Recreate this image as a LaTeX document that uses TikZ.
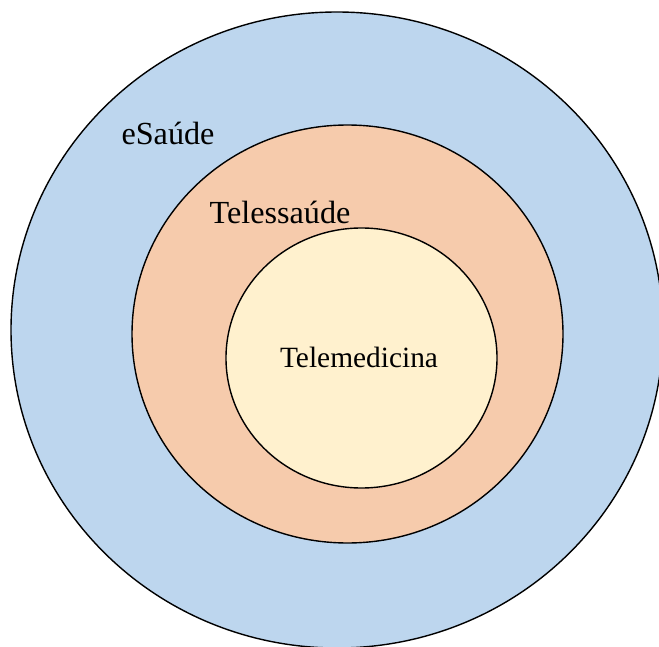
\documentclass[tikz,border=0pt]{standalone}
\usepackage{fontspec}
\setmainfont{Liberation Serif}
\definecolor{eblue}{RGB}{189,214,238}
\definecolor{tsalmon}{RGB}{246,203,172}
\definecolor{tcream}{RGB}{255,241,206}
\tikzset{ring/.style={draw=black,line width=1.4pt}}
\begin{document}
\begin{tikzpicture}[x=1pt,y=-1pt]
\useasboundingbox (0,0) rectangle (659,647);
\clip (0,0) rectangle (659,647);
\path[ring,fill=eblue] (337,330) ellipse [x radius=326, y radius=318];
\path[ring,fill=tsalmon] (347.5,334) ellipse [x radius=215.5, y radius=209];
\path[ring,fill=tcream] (361.5,358) ellipse [x radius=135.5, y radius=130];
\node[font=\fontsize{32.2}{37}\selectfont,inner sep=0pt] (esaude) at (168,133) {eSaúde};
\node[font=\fontsize{32.2}{37}\selectfont,inner sep=0pt] (telessaude) at (280,212) {Telessaúde};
\node[font=\fontsize{29.4}{35}\selectfont,inner sep=0pt] (telemed) at (359,357) {Telemedicina};
\end{tikzpicture}
\end{document}
